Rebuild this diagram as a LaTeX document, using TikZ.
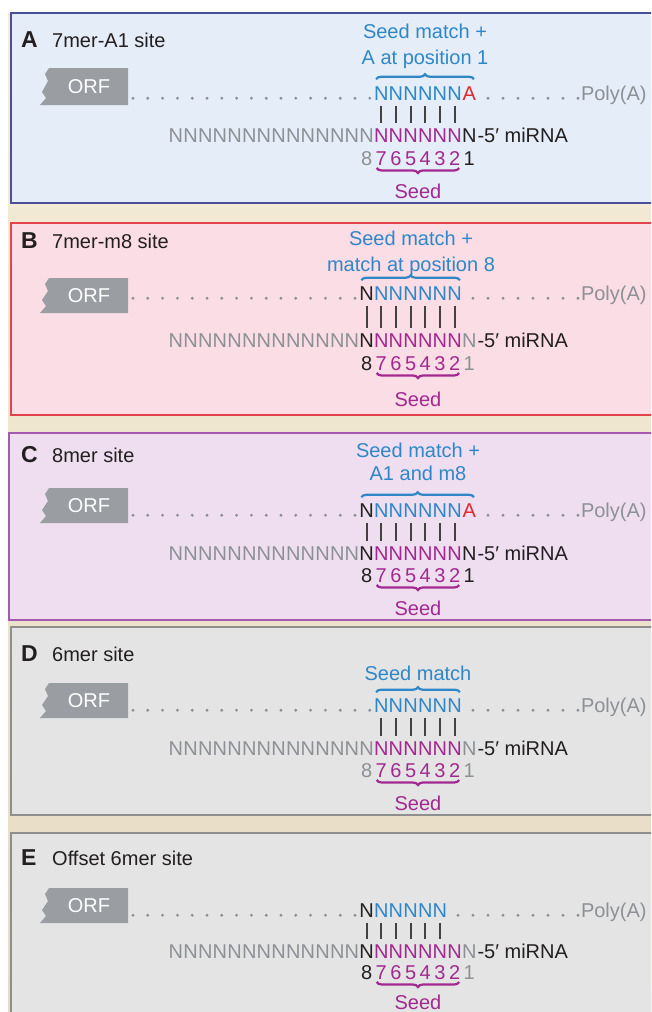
\documentclass[tikz,border=0pt]{standalone}
\usepackage{fontspec}
\setmainfont{Liberation Sans}
\usetikzlibrary{decorations.pathreplacing}
\definecolor{bgtop}{HTML}{F5EDD8}
\definecolor{bgbot}{HTML}{E6DBC3}
\definecolor{afill}{HTML}{E4EDF8}
\definecolor{aline}{HTML}{4B4E98}
\definecolor{bfill}{HTML}{FADDE5}
\definecolor{bline}{HTML}{E2434B}
\definecolor{cfill}{HTML}{EEDEF0}
\definecolor{cline}{HTML}{A35AB0}
\definecolor{dfill}{HTML}{E4E4E4}
\definecolor{dline}{HTML}{8E8E8E}
\definecolor{seedblue}{HTML}{2F87C8}
\definecolor{seedmag}{HTML}{A2298F}
\definecolor{ared}{HTML}{E2272D}
\definecolor{ngray}{HTML}{8D9196}
\definecolor{ink}{HTML}{231F20}
\definecolor{orfgray}{HTML}{9A9EA2}
\tikzset{
  nt/.style={inner sep=0pt, outer sep=0pt, anchor=base, font=\fontsize{20}{24}\selectfont},
  ttl/.style={inner sep=0pt, anchor=base west, font=\fontsize{20}{24}\selectfont, text=ink},
  ttlletter/.style={inner sep=0pt, anchor=base west, font=\fontsize{23}{26}\selectfont\bfseries, text=ink},
  bar/.style={draw=ink!85, line width=1.8pt, shorten <=5.5pt, shorten >=5.5pt},
  bluebrace/.style={draw=seedblue, line width=2.2pt, decorate, decoration={brace, amplitude=5pt}},
  magbrace/.style={draw=seedmag, line width=2.2pt, decorate, decoration={brace, amplitude=5pt, mirror}},
}
\newcommand\colX[1]{469.3-(#1-1)*14.67}
\newcommand\lowerstrand[4]{%
  \foreach \p in {9,...,21}{\node[nt,text=ngray] (#1-l\p) at ({\colX{\p}},#2) {N};}
  \node[nt,text=#3] (#1-l8) at ({\colX{8}},#2) {N};
  \foreach \p in {2,...,7}{\node[nt,text=seedmag] (#1-l\p) at ({\colX{\p}},#2) {N};}
  \node[nt,text=#4] (#1-l1) at ({\colX{1}},#2) {N};
  \node[nt,text=ink,anchor=base west] (#1-mirna) at ([xshift=1pt]#1-l1.base east) {-5′ miRNA};
}
\newcommand\numrow[5]{%
  \node[nt,text=#3] (#1-n8) at ({\colX{8}},#2) {8};
  \foreach \p in {2,...,7}{\node[nt,text=seedmag] (#1-n\p) at ({\colX{\p}},#2) {\p};}
  \node[nt,text=#4] (#1-n1) at ({\colX{1}},#2) {1};
  \draw[magbrace] ([xshift=1pt,yshift=-3pt]#1-n7.south west) -- ([xshift=-1pt,yshift=-3pt]#1-n2.south east);
  \node[nt,text=seedmag] (#1-seed) at (418,#5) {Seed};
}
\newcommand\strandline[3]{% prefix, baseline, left limit
  \foreach \k in {0,...,17}{\pgfmathsetmacro\dx{133+\k*14.8}\ifdim\dx pt<#3pt\relax\fill[ngray] ({\dx},{#2-1.8}) circle (1.6);\fi}
  \node[nt,text=ngray,anchor=base west] (#1-poly) at (581,#2) {Poly(A)};
}
\newcommand\rightdots[2]{%
  \foreach \k in {0,...,10}{\pgfmathsetmacro\dx{578-\k*15}\ifdim\dx pt>#2pt\relax\fill[ngray] ({\dx},{#1-1.8}) circle (1.6);\fi}
}
\newcommand\orftag[3]{%
  \fill[orfgray] (49,#2) -- (128,#2) -- (128,#3) -- (40,#3) -- (46,{#3-7}) -- (42,{#3-13}) -- (48,{#2+13}) -- (45,{#2+6}) -- cycle;
  \node[nt,text=white,anchor=center] (#1-orf) at (89,{(#2+#3)/2}) {ORF};
}
\newcommand\paneltitle[4]{%
  \node[ttlletter] (#1-let) at (21,#2) {#3};
  \node[ttl] (#1-ttl) at (52,#2) {#4};
}
\begin{document}
\begin{tikzpicture}[x=1pt,y=-1pt]
\useasboundingbox (0,0) rectangle (651,1012);
\clip (0,0) rectangle (651,1012);
\fill[white] (0,0) rectangle (651,1012);
\shade[top color=bgtop, bottom color=bgbot] (8,13) rectangle (651,1012);
% panels
\filldraw[fill=afill, draw=aline, line width=2pt] (11,13) rectangle (670,203);
\filldraw[fill=bfill, draw=bline, line width=2pt] (11,223) rectangle (670,415);
\filldraw[fill=cfill, draw=cline, line width=1.6pt] (9,433) rectangle (670,620);
\filldraw[fill=dfill, draw=dline, line width=1.6pt] (11,627) rectangle (670,815);
\filldraw[fill=dfill, draw=dline, line width=1.6pt] (11,833) rectangle (670,1030);

% ---------- A ----------
\paneltitle{a}{47}{A}{7mer-A1 site}
\orftag{a}{68}{105}
\node[nt,text=seedblue] (a-sm1) at (425,38) {Seed match +};
\node[nt,text=seedblue] (a-sm2) at (425,64) {A at position 1};
\foreach \p in {2,...,7}{\node[nt,text=seedblue] (a-t\p) at ({\colX{\p}},100) {N};}
\node[nt,text=ared] (a-t1) at ({\colX{1}},100) {A};
\draw[bluebrace] ([xshift=2pt,yshift=7pt]a-t7.north west) -- ([xshift=-2pt,yshift=7pt]a-t1.north east);
\strandline{a}{100}{372}
\rightdots{100}{483}
\lowerstrand{a}{142}{ngray}{ink}
\foreach \p in {2,...,7}{\draw[bar] (a-t\p.south) -- (a-l\p.north);}
\numrow{a}{165}{ngray}{ink}{198}

% ---------- B ----------
\paneltitle{b}{248}{B}{7mer-m8 site}
\orftag{b}{278}{313}
\node[nt,text=seedblue] (b-sm1) at (411,245) {Seed match +};
\node[nt,text=seedblue] (b-sm2) at (411,271) {match at position 8};
\node[nt,text=ink] (b-t8) at ({\colX{8}},300) {N};
\foreach \p in {2,...,7}{\node[nt,text=seedblue] (b-t\p) at ({\colX{\p}},300) {N};}
\draw[bluebrace] ([xshift=2pt,yshift=6pt]b-t8.north west) -- ([xshift=-2pt,yshift=6pt]b-t2.north east);
\strandline{b}{300}{357}
\rightdots{300}{468}
\lowerstrand{b}{347}{ink}{ngray}
\foreach \p in {2,...,8}{\draw[bar] (b-t\p.south) -- (b-l\p.north);}
\numrow{b}{370}{ink}{ngray}{406}

% ---------- C ----------
\paneltitle{c}{462}{C}{8mer site}
\orftag{c}{488}{523}
\node[nt,text=seedblue] (c-sm1) at (418,457) {Seed match +};
\node[nt,text=seedblue] (c-sm2) at (418,480) {A1 and m8};
\node[nt,text=ink] (c-t8) at ({\colX{8}},517) {N};
\foreach \p in {2,...,7}{\node[nt,text=seedblue] (c-t\p) at ({\colX{\p}},517) {N};}
\node[nt,text=ared] (c-t1) at ({\colX{1}},517) {A};
\draw[bluebrace] ([xshift=2pt,yshift=6pt]c-t8.north west) -- ([xshift=-2pt,yshift=6pt]c-t1.north east);
\strandline{c}{517}{357}
\rightdots{517}{483}
\lowerstrand{c}{560}{ink}{ink}
\foreach \p in {2,...,8}{\draw[bar] (c-t\p.south) -- (c-l\p.north);}
\numrow{c}{582}{ink}{ink}{615}

% ---------- D ----------
\paneltitle{d}{661}{D}{6mer site}
\orftag{d}{683}{718}
\node[nt,text=seedblue] (d-sm1) at (418,680) {Seed match};
\foreach \p in {2,...,7}{\node[nt,text=seedblue] (d-t\p) at ({\colX{\p}},712) {N};}
\draw[bluebrace] ([xshift=2pt,yshift=6pt]d-t7.north west) -- ([xshift=-2pt,yshift=6pt]d-t2.north east);
\strandline{d}{712}{372}
\rightdots{712}{468}
\lowerstrand{d}{755}{ngray}{ngray}
\foreach \p in {2,...,7}{\draw[bar] (d-t\p.south) -- (d-l\p.north);}
\numrow{d}{777}{ngray}{ngray}{810}

% ---------- E ----------
\paneltitle{e}{865}{E}{Offset 6mer site}
\orftag{e}{888}{923}
\node[nt,text=ink] (e-t8) at ({\colX{8}},917) {N};
\foreach \p in {3,...,7}{\node[nt,text=seedblue] (e-t\p) at ({\colX{\p}},917) {N};}
\strandline{e}{917}{357}
\rightdots{917}{453}
\lowerstrand{e}{958}{ink}{ngray}
\foreach \p in {3,...,8}{\draw[bar] (e-t\p.south) -- (e-l\p.north);}
\numrow{e}{979}{ink}{ngray}{1009}
\end{tikzpicture}
\end{document}
